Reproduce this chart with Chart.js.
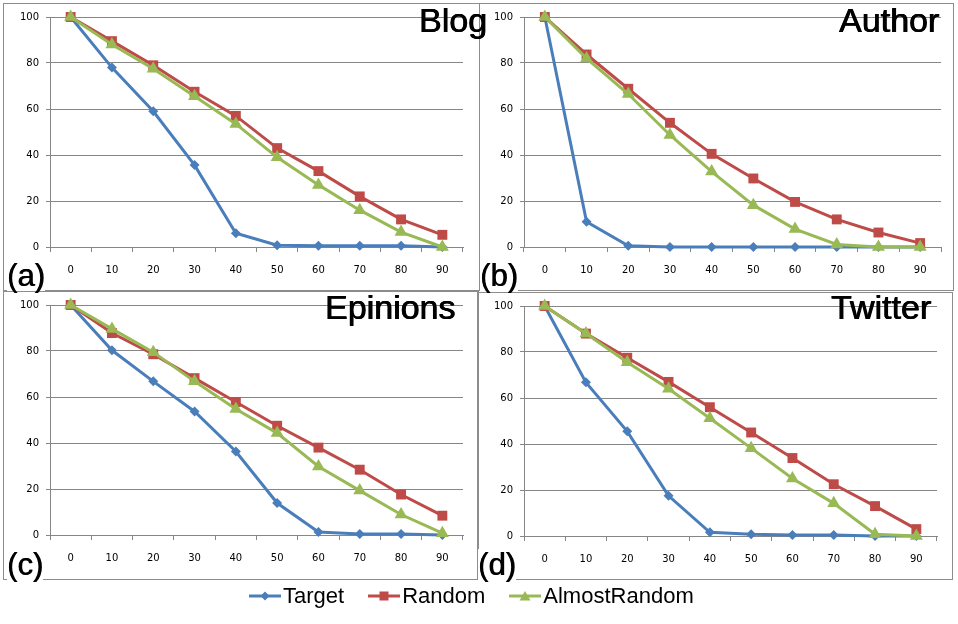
<!DOCTYPE html>
<html>
<head>
<meta charset="utf-8">
<script src="https://cdn.jsdelivr.net/npm/chart.js@4.4.1/dist/chart.umd.min.js"></script>
<style>
body { margin: 0; background: #fff; width: 958px; height: 624px; position: relative; overflow: hidden; font-family: "Liberation Sans", Arial, sans-serif; }
.box { position: absolute; border: 1px solid #8c8c8c; box-sizing: border-box; }
canvas { position: absolute; }
.title { position: absolute; font-size: 34px; line-height: 34px; color: #000; white-space: nowrap; text-shadow: 0.6px 0 0 #000, -0.3px 0 0 #000; }
.tag { position: absolute; font-size: 31px; line-height: 31px; color: #000; background: #fff; white-space: nowrap; text-shadow: 0.6px 0 0 #000; }
#legend { position: absolute; left: 249px; top: 585px; height: 22px; display: flex; align-items: center; font-size: 22px; line-height: 22px; }
#legend .item { display: flex; align-items: center; margin-right: 24px; }
#legend svg { margin-right: 2px; }
</style>
</head>
<body>

<div class="box" style="left:3px;top:3px;width:477px;height:288px"></div>
<div class="box" style="left:479px;top:3px;width:475px;height:288px"></div>
<div class="box" style="left:3px;top:291px;width:476px;height:289px"></div>
<div class="box" style="left:477px;top:292px;width:476px;height:288px"></div>

<canvas id="blog" width="479" height="290" style="left:0;top:0"></canvas>
<canvas id="author" width="479" height="290" style="left:479px;top:0"></canvas>
<canvas id="epinions" width="479" height="290" style="left:0;top:290px"></canvas>
<canvas id="twitter" width="479" height="290" style="left:479px;top:290px"></canvas>

<div class="title" style="left:419px;top:3px">Blog</div>
<div class="title" style="left:839px;top:3px">Author</div>
<div class="title" style="left:325px;top:290px">Epinions</div>
<div class="title" style="left:831px;top:290px">Twitter</div>

<div class="tag" style="left:7px;top:260px">(a)</div>
<div class="tag" style="left:480px;top:260px">(b)</div>
<div class="tag" style="left:7px;top:549px">(c)</div>
<div class="tag" style="left:478px;top:549px">(d)</div>

<div id="legend"></div>

<script>
// x categories and series names
const steps = ['0', '10', '20', '30', '40', '50', '60', '70', '80', '90'];
const seriesNames = ['Target', 'Random', 'AlmostRandom'];
const yTicks = [0, 20, 40, 60, 80, 100];

// values
const blogTarget = [100, 78, 59, 35.6, 6, 0.8, 0.5, 0.5, 0.5, 0];
const blogRandom = [100, 89.5, 79, 67.5, 57, 43, 33, 22, 12, 5.3];
const blogAlmost = [100, 88, 77.5, 65.5, 53.5, 39, 27, 16, 6.5, 0];

const authorTarget = [100, 11, 0.5, 0, 0, 0, 0, 0, 0, 0];
const authorRandom = [100, 83.7, 68.8, 54, 40.5, 29.8, 19.6, 12, 6.3, 1.7];
const authorAlmost = [100, 82, 66.5, 48.7, 32.8, 18.2, 7.8, 1.1, 0, 0];

const epinionsTarget = [100, 80.3, 66.8, 53.7, 36.3, 13.9, 1.3, 0.4, 0.4, 0];
const epinionsRandom = [100, 87.8, 78.6, 68.2, 57.8, 47.5, 38, 28.4, 17.6, 8.4];
const epinionsAlmost = [100, 89.6, 79.5, 66.8, 54.8, 44.3, 29.8, 19.3, 8.9, 0.8];

const twitterTarget = [100, 66.8, 45.5, 17.5, 1.6, 0.8, 0.4, 0.4, 0, 0];
const twitterRandom = [100, 88, 77.5, 67, 56, 45, 33.9, 22.5, 13, 3];
const twitterAlmost = [100, 88, 75.5, 64, 51.2, 38.2, 25, 14.2, 0.8, 0];

const colors = ['#4a7ebb', '#be4b48', '#98b954'];
const markers = ['rectRot', 'rect', 'triangle'];
const markerSize = [5, 7, 7.5];
const gridColor = '#868686';

function makeChart(id, values, area) {
  const W = 479, H = 290, yw = 40, xh = 30;
  new Chart(document.getElementById(id), {
    type: 'line',
    data: {
      labels: steps,
      datasets: values.map((v, i) => ({
        label: seriesNames[i],
        data: v,
        borderColor: colors[i],
        backgroundColor: colors[i],
        borderWidth: 3,
        pointStyle: markers[i],
        pointRadius: markerSize[i],
        pointBorderWidth: 0,
        tension: 0,
        clip: false,
        order: 2 - i
      }))
    },
    options: {
      responsive: false,
      animation: false,
      devicePixelRatio: 1,
      layout: {
        padding: { left: area.left - yw, right: W - area.right, top: area.top, bottom: H - area.bottom - xh }
      },
      plugins: { legend: { display: false }, tooltip: { enabled: false } },
      scales: {
        x: {
          offset: true,
          grid: { offset: true, drawOnChartArea: false, tickLength: 5, color: gridColor },
          border: { color: gridColor },
          ticks: { padding: 12, color: '#000', font: { family: 'DejaVu Sans', size: 10 } },
          afterFit: s => { s.height = xh; }
        },
        y: {
          min: 0,
          max: 100,
          afterBuildTicks: s => { s.ticks = yTicks.map(v => ({ value: v })); },
          grid: { color: gridColor, tickLength: 4 },
          border: { color: gridColor },
          ticks: { padding: 7, color: '#000', font: { family: 'DejaVu Sans', size: 10 } },
          afterFit: s => { s.width = yw; }
        }
      }
    }
  });
}

makeChart('blog', [blogTarget, blogRandom, blogAlmost], { left: 50, right: 463, top: 17, bottom: 247 });
makeChart('author', [authorTarget, authorRandom, authorAlmost], { left: 45, right: 462, top: 17, bottom: 247 });
makeChart('epinions', [epinionsTarget, epinionsRandom, epinionsAlmost], { left: 50, right: 463, top: 15, bottom: 245 });
makeChart('twitter', [twitterTarget, twitterRandom, twitterAlmost], { left: 45, right: 458, top: 16, bottom: 246 });

// legend at the bottom
const shapes = [
  c => `<polygon points="16,2.5 20.5,7 16,11.5 11.5,7" fill="${c}"/>`,
  c => `<rect x="11.5" y="2.5" width="9" height="9" fill="${c}"/>`,
  c => `<polygon points="16,2 21.5,11.5 10.5,11.5" fill="${c}"/>`
];
const legend = document.getElementById('legend');
seriesNames.forEach((name, i) => {
  const item = document.createElement('div');
  item.className = 'item';
  item.innerHTML = `<svg width="32" height="14"><line x1="0" y1="7" x2="32" y2="7" stroke="${colors[i]}" stroke-width="3"/>${shapes[i](colors[i])}</svg><span>${name}</span>`;
  legend.appendChild(item);
});
</script>
</body>
</html>
